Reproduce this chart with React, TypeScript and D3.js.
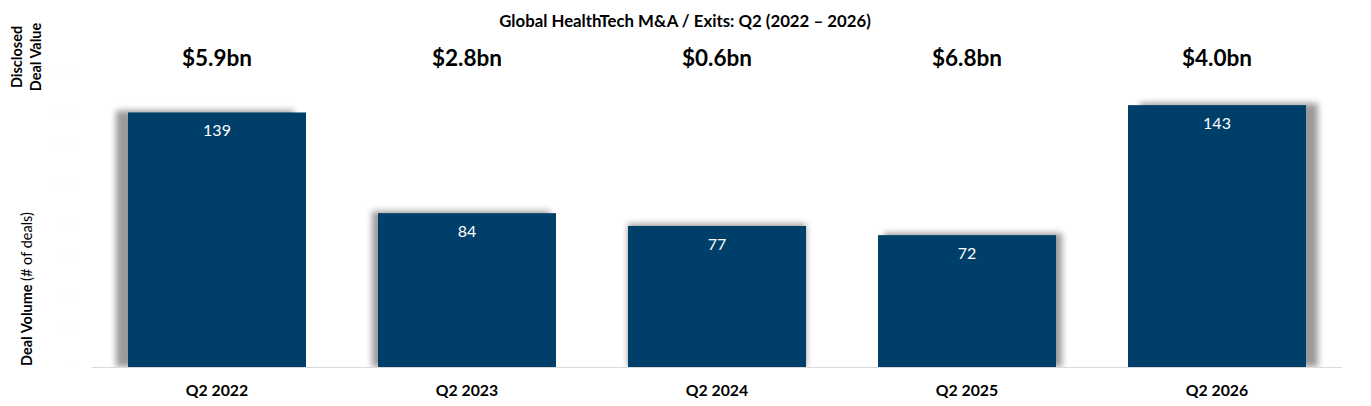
import React, { useEffect, useRef } from "react";
import * as d3 from "d3";

const categories = ["Q2 2022", "Q2 2023", "Q2 2024", "Q2 2025", "Q2 2026"];
const dealVolume = [139, 84, 77, 72, 143];
const dealValue = ["$5.9bn", "$2.8bn", "$0.6bn", "$6.8bn", "$4.0bn"];
const yTicks = [0, 20, 40, 60, 80, 100, 120, 140, 160];

const width = 1371;
const height = 406;
const FONT = "Lato, 'Open Sans', sans-serif";

const App: React.FC = () => {
  const svgRef = useRef<SVGSVGElement | null>(null);

  useEffect(() => {
    if (!svgRef.current) return;
    const svg = d3.select(svgRef.current);
    svg.selectAll("*").remove();

    const x = d3
      .scaleBand<string>()
      .domain(categories)
      .range([92, 1342])
      .paddingInner(0.288)
      .paddingOuter(0.144);

    const y = d3.scaleLinear().domain([0, 160]).range([367, 74]);

    // soft shadow behind the bars
    const defs = svg.append("defs");
    defs
      .append("filter")
      .attr("id", "barShadow")
      .attr("x", "-20%")
      .attr("y", "-20%")
      .attr("width", "140%")
      .attr("height", "140%")
      .append("feGaussianBlur")
      .attr("stdDeviation", 3);

    // title
    svg
      .append("text")
      .attr("x", 685)
      .attr("y", 27)
      .attr("text-anchor", "middle")
      .attr("font-family", FONT)
      .attr("font-weight", 700)
      .attr("font-size", 16.8)
      .attr("fill", "#000")
      .text("Global HealthTech M&A / Exits: Q2 (2022 \u2013 2026)");

    // y tick labels, white on white in the original (barely visible)
    svg
      .append("g")
      .selectAll("text")
      .data(yTicks)
      .enter()
      .append("text")
      .attr("x", 74)
      .attr("y", (d) => y(d) + 5)
      .attr("text-anchor", "end")
      .attr("font-family", FONT)
      .attr("font-size", 14)
      .attr("fill", "#fdfdfd")
      .text((d) => d);

    // left side labels
    const side = svg.append("g").attr("font-family", FONT).attr("fill", "#000");
    side
      .append("text")
      .attr("transform", "translate(22,57) rotate(-90)")
      .attr("text-anchor", "middle")
      .attr("font-weight", 700)
      .attr("font-size", 14.5)
      .text("Disclosed");
    side
      .append("text")
      .attr("transform", "translate(41,57) rotate(-90)")
      .attr("text-anchor", "middle")
      .attr("font-weight", 700)
      .attr("font-size", 14.5)
      .text("Deal Value");
    const vol = side
      .append("text")
      .attr("transform", "translate(32,289) rotate(-90)")
      .attr("text-anchor", "middle")
      .attr("font-size", 14.5);
    vol.append("tspan").attr("font-weight", 700).text("Deal Volume ");
    vol.append("tspan").attr("font-weight", 400).text("(# of deals)");

    const mid = (x.range()[0] + x.range()[1]) / 2;
    const bars = svg
      .append("g")
      .selectAll("g")
      .data(categories)
      .enter()
      .append("g");

    // shadow leans away from the centre of the chart
    bars
      .append("rect")
      .attr("x", (d) => {
        const c = (x(d) as number) + x.bandwidth() / 2;
        return (x(d) as number) + ((c - mid) / 500) * 12;
      })
      .attr("y", (d, i) => y(dealVolume[i]) - 2)
      .attr("width", x.bandwidth())
      .attr("height", (d, i) => y(0) - y(dealVolume[i]) + 2)
      .attr("fill", "#6f6f6f")
      .attr("opacity", 0.7)
      .attr("filter", "url(#barShadow)");

    bars
      .append("rect")
      .attr("x", (d) => x(d) as number)
      .attr("y", (d, i) => y(dealVolume[i]))
      .attr("width", x.bandwidth())
      .attr("height", (d, i) => y(0) - y(dealVolume[i]))
      .attr("fill", "#003f6a");

    // clip shadows at the baseline, then draw the axis line
    svg
      .append("rect")
      .attr("x", 0)
      .attr("y", y(0) + 1)
      .attr("width", width)
      .attr("height", height - y(0))
      .attr("fill", "#fff");
    svg
      .append("line")
      .attr("x1", x.range()[0])
      .attr("x2", x.range()[1])
      .attr("y1", y(0) + 0.5)
      .attr("y2", y(0) + 0.5)
      .attr("stroke", "#d9d9d9")
      .attr("stroke-width", 1.2);

    // value labels inside bars
    bars
      .append("text")
      .attr("x", (d) => (x(d) as number) + x.bandwidth() / 2)
      .attr("y", (d, i) => y(dealVolume[i]) + 24)
      .attr("text-anchor", "middle")
      .attr("font-family", FONT)
      .attr("font-size", 16)
      .attr("fill", "#fff")
      .text((d, i) => dealVolume[i]);

    // disclosed value labels
    svg
      .append("g")
      .selectAll("text")
      .data(categories)
      .enter()
      .append("text")
      .attr("x", (d) => (x(d) as number) + x.bandwidth() / 2)
      .attr("y", 66)
      .attr("text-anchor", "middle")
      .attr("font-family", FONT)
      .attr("font-weight", 700)
      .attr("font-size", 22.5)
      .attr("fill", "#000")
      .text((d, i) => dealValue[i]);

    // category labels
    svg
      .append("g")
      .selectAll("text")
      .data(categories)
      .enter()
      .append("text")
      .attr("x", (d) => (x(d) as number) + x.bandwidth() / 2)
      .attr("y", 396)
      .attr("text-anchor", "middle")
      .attr("font-family", FONT)
      .attr("font-weight", 700)
      .attr("font-size", 15.8)
      .attr("fill", "#000")
      .text((d) => d);
  }, []);

  return (
    <div style={{ position: "absolute", left: 0, top: 0, background: "#fff" }}>
      <svg ref={svgRef} width={width} height={height} style={{ display: "block" }} />
    </div>
  );
};

export default App;
